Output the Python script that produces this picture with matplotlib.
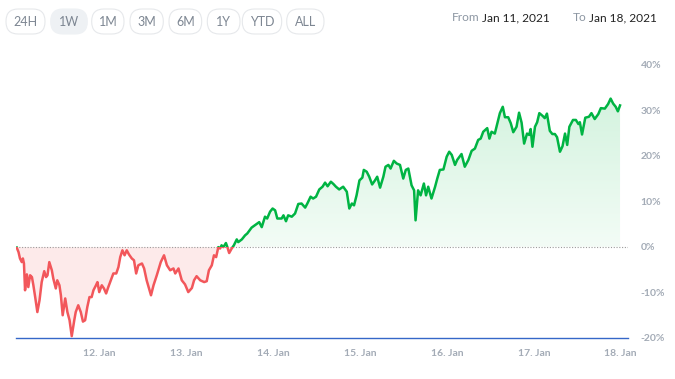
import numpy as np
import matplotlib
matplotlib.use("Agg")
import matplotlib.pyplot as plt
from matplotlib.patches import Rectangle, FancyBboxPatch
from matplotlib.path import Path
from matplotlib.colors import LinearSegmentedColormap

# hours since Jan 11 00:00 and change in %
hours = [1.1, 1.6, 2.0, 2.5, 2.8, 3.1, 3.4, 3.9, 4.3, 4.8, 5.3, 5.7, 6.2, 6.8, 7.4, 8.0, 8.7, 9.2, 9.6, 10.1,
         10.8, 11.2, 11.9, 12.3, 12.9, 13.3, 13.8, 14.5, 15.1, 15.7, 16.3, 17.0, 17.4, 18.1, 18.8, 19.4, 20.0, 20.6, 21.2, 21.8,
         22.3, 23.0, 23.4, 23.9, 24.6, 25.2, 25.8, 26.4, 27.1, 27.8, 28.6, 29.2, 29.7, 30.3, 30.9, 31.5, 32.1, 32.9, 33.5, 34.1,
         34.7, 35.7, 36.3, 37.0, 38.2, 38.9, 39.8, 40.9, 41.8, 42.6, 43.5, 44.4, 44.9, 45.8, 46.7, 47.6, 48.5, 49.5, 50.1, 50.8,
         51.8, 52.9, 53.6, 54.2, 55.0, 55.6, 56.2, 56.8, 57.3, 57.7, 58.2, 58.9, 59.3, 59.8, 60.5, 61.1, 61.9, 62.3, 63.3, 64.2,
         64.8, 66.0, 67.2, 68.1, 68.8, 69.7, 70.3, 71.1, 71.8, 72.5, 73.1, 74.3, 74.8, 75.5, 76.1, 77.1, 78.0, 78.9, 79.8, 80.8,
         81.4, 82.3, 83.0, 83.8, 84.7, 85.6, 86.3, 87.0, 87.9, 88.6, 89.3, 90.2, 91.3, 92.3, 93.0, 93.7, 94.3, 95.0, 95.8, 96.6,
         97.0, 97.8, 98.5, 99.3, 100.1, 100.7, 101.5, 102.4, 103.0, 103.8, 104.4, 105.3, 106.1, 107.0, 107.9, 108.6, 109.3, 110.2, 110.9, 111.3,
         112.0, 112.7, 113.6, 114.2, 114.8, 115.7, 116.7, 117.3, 118.0, 119.0, 119.9, 120.6, 121.3, 122.2, 122.8, 124.0, 124.9, 125.9, 126.8, 127.7,
         128.6, 129.3, 130.0, 131.1, 131.7, 132.3, 133.2, 133.9, 134.6, 135.4, 136.0, 136.9, 137.6, 138.3, 139.2, 139.9, 140.6, 141.3, 142.1, 142.7,
         143.1, 143.6, 144.3, 144.9, 145.5, 146.4, 147.0, 147.6, 148.4, 149.1, 149.8, 150.4, 151.2, 151.9, 152.6, 153.2, 153.8, 154.8, 155.6, 156.3,
         156.7, 157.3, 158.2, 159.2, 159.9, 160.8, 161.8, 162.5, 163.6, 164.5, 165.2, 165.9, 166.6, 167.2, 167.8]
change = [-0.2, -1.2, -2.6, -3.4, -2.6, -3.7, -9.6, -6.1, -8.9, -6.3, -6.7, -8.5, -11.1, -14.4, -11.8, -7.8, -5.4, -6.7, -6.3, -3.4,
          -5.2, -7.0, -9.2, -7.4, -8.5, -10.7, -15.1, -11.4, -14.4, -16.2, -19.7, -16.2, -14.4, -12.9, -14.4, -16.5, -16.2, -13.3, -11.1, -11.1,
          -9.6, -8.5, -7.8, -10.0, -8.5, -9.2, -10.3, -8.9, -7.4, -5.9, -5.9, -4.5, -2.3, -0.8, -1.9, -0.8, -1.7, -2.6, -3.0, -5.9,
          -4.1, -3.7, -4.8, -7.4, -10.7, -8.5, -6.3, -3.4, -1.9, -4.1, -5.2, -4.8, -5.9, -4.8, -7.4, -8.3, -10.0, -9.1, -7.4, -6.5,
          -7.4, -7.8, -7.6, -5.2, -4.1, -1.9, -2.3, -0.1, -0.4, 0.3, -0.1, 0.8, -0.1, -1.4, -0.4, 0.3, 1.6, 1.0, 1.6, 2.5,
          2.9, 4.2, 4.9, 5.4, 4.3, 6.6, 6.2, 7.7, 8.4, 8.0, 6.2, 6.2, 6.9, 5.6, 6.9, 6.6, 7.3, 9.4, 9.5, 8.6,
          9.5, 11.0, 10.6, 11.0, 12.6, 13.2, 14.1, 13.3, 14.3, 13.8, 13.2, 12.6, 13.2, 12.1, 8.4, 9.5, 9.1, 11.3, 14.6, 15.2,
          16.9, 16.5, 15.4, 13.7, 14.6, 15.4, 13.0, 15.4, 17.6, 18.0, 17.2, 18.9, 18.3, 18.0, 15.0, 16.9, 17.2, 13.5, 12.4, 5.8,
          12.4, 11.3, 13.9, 11.3, 13.2, 10.6, 13.2, 15.0, 16.9, 17.0, 19.8, 20.9, 20.2, 18.0, 19.1, 20.4, 17.6, 19.1, 21.1, 21.6,
          23.5, 23.8, 25.3, 26.1, 23.8, 25.3, 24.9, 27.2, 29.4, 30.8, 28.5, 28.5, 27.2, 25.2, 26.4, 29.5, 27.3, 22.7, 24.9, 24.6,
          25.9, 22.0, 26.4, 27.4, 29.4, 28.8, 28.3, 29.3, 25.5, 24.8, 24.8, 24.1, 20.9, 22.1, 24.9, 22.4, 26.4, 27.9, 27.9, 27.0,
          27.4, 24.7, 28.4, 28.6, 29.4, 28.1, 29.2, 30.5, 30.4, 31.4, 32.6, 31.5, 30.8, 29.8, 31.1]

day_ticks = [24, 48, 72, 96, 120, 144, 168]
day_labels = ["12. Jan", "13. Jan", "14. Jan", "15. Jan", "16. Jan", "17. Jan", "18. Jan"]
pct_ticks = [-20, -10, 0, 10, 20, 30, 40]
ranges = ["24H", "1W", "1M", "3M", "6M", "1Y", "YTD", "ALL"]

green = "#00b443"
red = "#f2575b"
gray = "#a3abb6"

t = np.array(hours)
v = np.array(change)

W, H = 675, 379
fig = plt.figure(figsize=(W / 100, H / 100), dpi=100)
ax = fig.add_axes([16 / W, 1 - 337.5 / H, (628 - 16) / W, (337.5 - 65) / H])
x0, x1 = 0.9, 170.0
y0, y1 = -20, 40

# fills
ax.fill_between(t, np.minimum(v, 0), 0, color="#fdeaea", lw=0, zorder=1)
pos = ax.fill_between(t, np.maximum(v, 0), 0, facecolor="none", lw=0)
cmap = LinearSegmentedColormap.from_list("g", ["#f3fcf6", "#d4f3df"])
grad = np.linspace(0, 1, 256).reshape(-1, 1)
im = ax.imshow(grad, extent=[t[0], t[-1], 0, v.max()], origin="lower", cmap=cmap,
               aspect="auto", zorder=1, interpolation="bilinear")
clip = Path.make_compound_path(*pos.get_paths())
im.set_clip_path(clip, transform=ax.transData)

# zero line
ax.axhline(0, color="#9b9b9b", lw=0.8, ls=(0, (1, 1.5)), zorder=2)

# line coloured by sign
up, = ax.plot(t, v, color=green, lw=1.8, zorder=3, solid_joinstyle="round")
dn, = ax.plot(t, v, color=red, lw=1.8, zorder=3, solid_joinstyle="round")
up.set_clip_path(Rectangle((x0, 0), x1 - x0, 100, transform=ax.transData))
dn.set_clip_path(Rectangle((x0, -100), x1 - x0, 100, transform=ax.transData))

ax.set_xlim(x0, x1)
ax.set_ylim(y0, y1)
ax.set_xticks(day_ticks)
ax.set_xticklabels(day_labels)
ax.set_yticks(pct_ticks)
ax.set_yticklabels([f"{p}%" for p in pct_ticks])
ax.yaxis.tick_right()
ax.tick_params(axis="both", length=0, labelsize=7.5, labelcolor=gray)
ax.tick_params(axis="x", pad=8)
ax.tick_params(axis="y", pad=9)
for lab in ax.get_xticklabels() + ax.get_yticklabels():
    lab.set_fontfamily("Lato")
    lab.set_fontweight("bold")
for s in ["top", "left", "right"]:
    ax.spines[s].set_visible(False)
ax.spines["bottom"].set_color("#3567c8")
ax.spines["bottom"].set_linewidth(1.0)

# range buttons
btn_x = [6, 50.7, 91.7, 130, 169, 207.3, 242.3, 286.7]
btn_w = [39, 36.6, 32.3, 33.3, 32.7, 32.7, 39.4, 37.3]
for i, name in enumerate(ranges):
    bx, bw = btn_x[i], btn_w[i]
    face = "#eef1f4" if name == "1W" else "white"
    edge = "#eef1f4" if name == "1W" else "#e6e8eb"
    box = FancyBboxPatch((bx / W, 1 - 34 / H), bw / W, 25 / H,
                         boxstyle="round,pad=0,rounding_size=0.018",
                         transform=fig.transFigure, facecolor=face, edgecolor=edge, lw=0.8,
                         mutation_aspect=W / H)
    fig.patches.append(box)
    fig.text((bx + bw / 2) / W, 1 - 21.5 / H, name, ha="center", va="center",
             fontsize=9, color="#7d8692", family="Lato")

fig.text(451.5 / W, 1 - 17.5 / H, "From", ha="left", va="center", fontsize=8.6, color="#8c96a2", family="Lato")
fig.text(481.5 / W, 1 - 17.5 / H, "Jan 11, 2021", ha="left", va="center", fontsize=8.6, color="#222222", family="Lato")
fig.text(572.5 / W, 1 - 17.5 / H, "To", ha="left", va="center", fontsize=8.6, color="#8c96a2", family="Lato")
fig.text(589 / W, 1 - 17.5 / H, "Jan 18, 2021", ha="left", va="center", fontsize=8.6, color="#222222", family="Lato")

fig.savefig("out.png", dpi=100)
